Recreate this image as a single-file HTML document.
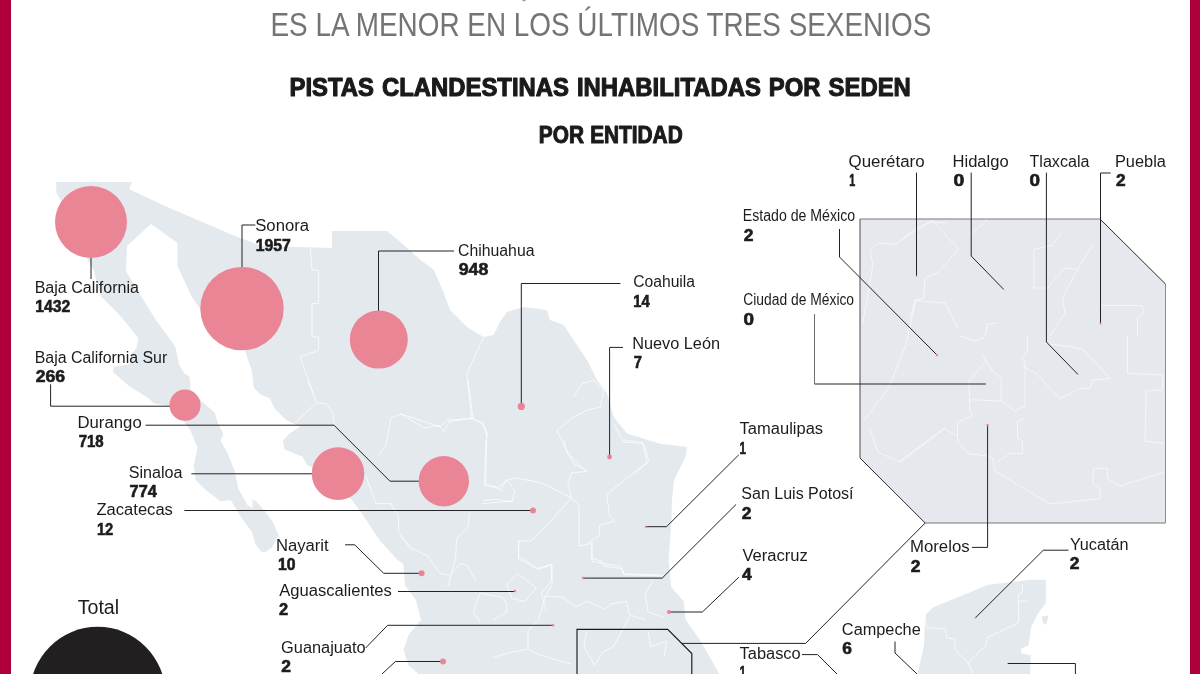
<!DOCTYPE html>
<html lang="es">
<head>
<meta charset="utf-8">
<title>Pistas clandestinas inhabilitadas por SEDEN</title>
<style>
html,body{margin:0;padding:0;background:#fff;}
body{width:1200px;height:674px;overflow:hidden;font-family:"Liberation Sans",sans-serif;}
svg{display:block;}
text{font-family:"Liberation Sans",sans-serif;}
.n{font-size:16.3px;fill:#1c1c1c;}
.v{font-size:15.8px;font-weight:700;fill:#1c1c1c;}
.ln{fill:none;stroke:#222;stroke-width:1;}
.sb{fill:none;stroke:#fff;stroke-width:1;stroke-opacity:.7;stroke-linejoin:round;}
</style>
</head>
<body>
<svg width="1200" height="674" viewBox="0 0 1200 674">
<rect x="0" y="0" width="1200" height="674" fill="#fff"/>
<g id="mapa" fill="#e4e9ee">
<polygon points="56.0,182.0 132.0,182.0 129.0,189.0 165.0,206.0 200.0,221.0 235.0,236.0 262.0,246.0 332.0,248.0 332.0,231.0 387.0,231.0 400.5,242.0 420.5,260.0 434.0,270.0 444.0,293.5 450.0,310.0 467.0,327.0 483.5,337.0 493.5,335.0 500.0,322.0 507.0,312.0 523.5,307.0 547.0,310.0 550.0,320.0 563.6,325.0 573.6,340.0 587.0,360.0 597.0,380.0 607.0,393.6 613.7,417.0 627.0,433.6 660.0,443.7 687.0,447.0 685.5,457.0 679.0,470.0 674.0,480.0 672.0,500.0 671.3,524.5 668.6,560.0 671.3,586.9 683.8,601.5 685.5,619.2 700.7,641.2 719.4,674.0 418.6,674.0 408.5,665.5 403.5,650.0 408.5,635.0 421.0,620.0 415.8,599.7 405.0,585.4 403.3,564.0 398.0,560.5 380.2,541.0 362.4,514.2 351.7,500.0 340.0,486.0 325.0,472.0 307.7,465.6 302.4,456.7 284.6,449.6 282.8,440.7 290.0,433.0 300.0,426.8 285.8,419.7 275.0,409.0 269.7,398.3 260.8,394.7 253.7,387.6 252.0,371.6 244.8,350.0 228.0,338.0 212.0,325.0 201.5,311.0 191.4,296.0 177.5,266.0 177.5,243.0 163.6,233.0 151.0,224.0 127.0,246.0 126.0,271.0 141.0,296.0 155.8,320.0 166.5,334.2 175.4,346.7 179.0,364.5 184.3,373.4 189.7,377.0 190.5,389.4 200.3,400.0 214.6,412.5 218.0,423.2 223.5,434.0 220.5,440.7 227.6,453.0 234.7,471.0 238.3,488.7 247.2,504.7 252.5,508.3 252.5,499.4 256.0,501.0 264.5,510.7 273.4,523.0 278.7,535.6 271.6,548.0 264.5,552.5 261.0,551.6 255.6,544.5 252.0,532.0 241.4,517.8 230.7,500.0 220.5,501.2 206.3,490.5 195.6,479.8 193.8,465.6 197.4,447.8 190.3,430.0 182.5,419.7 168.3,405.4 154.0,403.6 148.7,398.3 129.0,386.0 113.0,372.0 113.5,367.0 130.0,364.0 131.8,353.6 136.2,348.3 138.5,338.5 123.8,320.0 115.7,311.0 100.5,296.0 94.0,271.0 86.7,258.0 72.0,232.0 65.0,208.0 56.4,192.7"/>
<polygon points="925.2,615.0 932.8,607.5 988.3,584.7 1031.0,579.7 1045.8,579.7 1045.8,603.0 1038.0,613.5 1031.0,627.6 1028.7,645.3 1021.0,649.0 1021.0,653.0 1031.0,655.4 1030.0,674.0 917.7,674.0 924.0,645.0"/>
<polygon points="1041.5,616.5 1048.5,615.5 1046.5,625 1043,623"/>
</g>
<polygon id="recuadro" points="860.0,219.0 1100.0,219.0 1165.5,284.0 1165.5,523.0 925.2,523.0 860.0,458.0" fill="#e5e9ee"/>
<g fill="none" stroke-width="1"><polyline points="860,458 860,219" stroke="#4a4a4a"/><polyline points="860,219 1100,219" stroke="#75787c"/><polyline points="1165.5,284 1165.5,523" stroke="#8a8e93"/><polyline points="1165.5,523 925.2,523" stroke="#75787c"/></g>
<g fill="none" stroke="#2a2a2a" stroke-width="1"><polyline points="1100,219 1165.5,284"/><polyline points="860,458 925.2,523"/></g>
<defs><clipPath id="cr"><polygon points="860,219 1100,219 1165.5,284 1165.5,523 925.2,523 860,458"/></clipPath></defs>
<g id="limites" class="sb">
<polyline points="307.8,380.0 316.6,402.7 326.7,404.0 333.0,412.8 334.3,424.2"/>
<polyline points="316.6,402.7 295.1,422.9"/>
<polyline points="378.4,455.7 386.0,445.6 391.0,417.9 401.1,414.1 423.8,427.9 439.0,425.4 444.0,431.7 449.1,421.6 471.8,417.9 481.9,422.9 486.9,433.0 485.7,483.5 497.0,488.5 507.1,479.7 514.7,491.0 512.1,501.1 481.9,503.6"/>
<polyline points="468.0,380.0 473.0,417.9"/>
<polyline points="365.8,475.9 375.9,503.6 391.0,503.6 398.6,516.3 398.6,531.4 411.2,550.1"/>
<polyline points="483.5,337.5 466.8,373.5 471.8,418.6"/>
<polyline points="400.0,413.6 440.1,427.0 446.7,420.3 471.8,418.6 483.5,423.6 487.5,437.0"/>
<polyline points="573.6,396.9 582.0,383.6 593.7,380.2 603.7,390.2 600.3,406.9 587.0,410.3 573.6,416.9 556.9,430.3 566.9,450.3 573.6,463.7 587.0,470.4"/>
<polyline points="613.7,423.6 623.7,442.0 643.7,443.7 648.7,460.4 633.7,475.0"/>
<polyline points="310.4,247.5 312.0,270.2 318.7,270.2 318.7,303.6 312.0,303.6 312.0,336.9 318.7,336.9 318.7,350.3 300.3,357.0 313.7,395.0"/>
<polyline points="485.8,440.0 484.5,485.4 495.9,486.7 500.9,490.5 506.0,480.4 516.1,477.9 541.3,482.9 571.6,498.0"/>
<polyline points="571.6,498.0 546.4,525.8 531.2,540.9 518.6,540.9 518.6,558.6 536.3,568.7 551.4,564.9 551.4,581.3 541.3,593.9 546.4,610.1"/>
<polyline points="564.0,440.0 566.5,452.6 586.7,471.5 571.6,472.8 567.8,485.4 571.6,498.0 579.2,505.6 579.2,546.0 591.8,543.5 591.8,558.6 601.9,561.1 604.4,566.2 622.1,568.7 623.3,573.7 662.4,575.0"/>
<polyline points="624.6,440.0 642.2,442.5 647.3,462.7 627.1,477.9 606.9,494.3 609.4,515.7 614.5,520.7 599.3,525.8 599.3,535.9 586.7,543.5"/>
<polyline points="483.3,500.6 495.9,499.3 513.6,501.8"/>
<polyline points="469.4,513.2 468.1,527.1 456.8,538.4 455.5,558.6 447.9,586.4"/>
<polyline points="400.0,535.9 412.6,548.5 427.8,556.1 440.4,573.7 450.5,575.0 460.6,563.6 468.1,566.2 475.7,581.3"/>
<polyline points="518.7,540.0 518.7,556.0 538.7,569.3 552.0,564.0 552.0,585.3 545.3,596.0 538.7,620.0 528.0,630.7 528.0,649.3 538.7,654.7 570.7,664.0"/>
<polyline points="545.3,596.0 562.7,597.3 576.0,606.7 586.7,601.3 605.3,609.3 610.7,604.0 626.7,601.3 629.3,614.7 645.3,620.0"/>
<polyline points="506.7,585.3 517.3,573.3 536.0,588.0 525.3,601.3 512.0,598.7 506.7,585.3"/>
<polyline points="493.3,620.0 506.7,612.0 506.7,604.0 502.7,597.3 480.0,593.3 473.3,612.0 480.0,622.7"/>
<polyline points="592.0,540.0 592.0,561.3 621.3,566.7 624.0,574.7 664.0,576.0"/>
<polyline points="653.3,580.0 645.3,593.3 648.0,612.0 664.0,617.3"/>
<polyline points="493.3,657.3 512.0,652.0 528.0,649.3"/>
<polyline points="586.7,630.7 584.0,646.7 594.7,665.3 602.7,652.0 613.3,646.7 629.3,617.3"/>
<polyline points="648.0,630.7 650.7,646.7 666.7,641.3 664.0,657.3"/>
<polyline points="925.2,615.0 926.5,627.6 945.4,628.9 946.7,637.7 954.3,639.0 955.5,650.4 968.1,663.0 973.2,674.1"/>
<polyline points="968.1,663.0 985.8,645.3 987.1,637.7 1018.6,622.6"/>
<polyline points="1022.4,584.7 1022.4,592.3 1018.6,593.6 1018.6,622.6"/>
<polyline points="1018.6,601.1 1028.7,601.1"/>
</g>
<g id="limites-recuadro" class="sb" style="stroke-opacity:.55" clip-path="url(#cr)">
<polyline points="900.0,240.5 932.5,220.5 958.8,249.2 937.5,273.0 925.0,278.0 923.8,298.0 915.0,300.5 910.0,318.0"/>
<polyline points="987.5,219.2 970.0,235.5"/>
<polyline points="1061.2,233.5 1052.5,245.5 1033.8,249.2 1033.8,288.0 1047.5,288.0 1065.0,268.0 1077.5,269.2 1092.5,245.5"/>
<polyline points="1077.5,269.2 1062.5,298.0 1065.0,313.0 1050.0,336.0"/>
<polyline points="915.0,300.5 945.0,303.0 957.5,328.0"/>
<polyline points="1100.0,305.5 1142.5,305.5 1143.8,313.0 1137.5,318.0 1137.5,336.0"/>
<polyline points="985.0,336.0 987.5,324.2 997.5,323.0"/>
<polyline points="960.0,336.0 975.0,341.0 985.0,337.2"/>
<polyline points="982.5,353.5 986.2,361.0 968.8,381.0 970.0,411.0 972.5,416.0 957.5,422.2 957.5,441.0 967.5,453.5 987.5,456.0 992.5,458.5 995.0,471.0 1050.0,504.0"/>
<polyline points="957.5,436.0 943.8,428.5 900.0,461.0"/>
<polyline points="986.2,361.0 992.5,371.0 1001.2,378.5 1001.2,401.0 971.2,399.8"/>
<polyline points="1001.2,401.0 1015.0,411.0 1025.0,406.0 1025.0,361.0 1021.2,358.5 1027.5,351.0 1027.5,336.0"/>
<polyline points="1022.5,366.0 1036.2,373.5 1060.0,398.5 1080.0,388.5 1090.0,388.5 1092.5,379.8 1110.0,378.5 1085.0,351.0 1075.0,347.2 1045.0,343.5"/>
<polyline points="1025.0,418.5 1017.5,421.0 1017.5,438.5 1022.5,441.0 1022.5,453.5 1010.0,453.5 997.5,462.2"/>
<polyline points="1127.5,336.0 1127.5,373.5 1162.5,374.8 1162.5,389.8 1146.2,391.0 1145.0,441.0 1165.0,443.5"/>
<polyline points="1163.8,472.2 1120.0,486.0 1107.5,478.5 1107.5,468.5 1093.8,468.5 1092.5,483.5 1100.0,488.5 1100.0,498.5 1050.0,504.0"/>
<polyline points="862.7,323.6 872.8,265.6 870.3,250.4 877.8,242.9 895.5,244.4 913.1,230.3 928.3,222.7 948.4,222.7"/>
<polyline points="862.7,421.9 887.9,389.1 905.6,346.2 915.6,300.9"/>
<polyline points="870.3,429.5 877.8,452.1 900.5,462.2 943.4,429.5"/>
</g>
<rect x="522.5" y="0" width="3" height="1.2" fill="#9a9a9a"/>
<g class="ln">
<polyline points="91.0,258.0 91.0,279.0"/>
<polyline points="255.3,225.0 242.0,225.0 242.0,267.0"/>
<polyline points="454.0,251.0 378.5,251.0 378.5,311.0"/>
<polyline points="50.6,384.3 50.6,406.2 170.0,406.2"/>
<polyline points="145.5,425.2 334.0,425.2 390.0,481.2 419.0,481.2"/>
<polyline points="191.4,473.8 312.0,473.8"/>
<polyline points="184.4,510.5 533.0,510.5"/>
<polyline points="345.1,544.8 354.7,544.8 383.7,573.3 421.6,573.3"/>
<polyline points="398.0,591.5 515.0,591.5"/>
<polyline points="365.6,648.0 387.6,625.3 553.0,625.3"/>
<polyline points="382.0,674.0 395.4,661.5 443.0,661.5"/>
<polyline points="620.4,283.5 521.3,283.5 521.3,406.0"/>
<polyline points="623.0,347.4 609.6,347.4 609.6,457.0"/>
<polyline points="738.8,454.8 666.5,526.7 645.8,526.7"/>
<polyline points="736.0,504.5 662.2,578.1 583.1,578.1"/>
<polyline points="738.8,577.2 702.4,612.0 669.0,612.0"/>
<polyline points="802.0,654.6 817.5,654.6 837.0,674.0"/>
<polyline points="895.0,641.5 895.0,653.0 917.0,674.0"/>
<polyline points="972.0,547.4 987.6,547.4 987.6,425.0"/>
<polyline points="1068.5,550.2 1043.3,550.2 975.7,617.5"/>
<polyline points="1007.7,663.5 1075.4,663.5 1075.4,674.0"/>
<polyline points="916.5,172.6 916.5,276.0"/>
<polyline points="971.2,172.6 971.2,256.0 1003.8,289.5"/>
<polyline points="1046.4,172.6 1046.4,342.0 1078.0,374.5"/>
<polyline points="1110.6,173.0 1100.5,173.0 1100.5,323.5"/>
<polyline points="839.5,229.0 839.5,257.0 937.0,355.0"/>
<polyline points="814.5,384.0 985.8,384.0"/>
<polyline points="682.0,643.4 805.6,643.4 925.2,523.0"/>
<polyline points="814.5,314 814.5,384" stroke="#6f6f6f"/>
<polyline points="577.0,674.0 577.0,629.4 667.7,629.4 691.8,653.6 691.8,674.0" stroke="#1a1a1a" stroke-width="1.15"/>
</g>
<g id="burbujas" fill="#e98193" fill-opacity="0.97">
<circle cx="91" cy="222" r="36"/>
<circle cx="242" cy="308.6" r="41.7"/>
<circle cx="378.8" cy="339.6" r="29"/>
<circle cx="185" cy="405.2" r="15.6"/>
<circle cx="338" cy="473.6" r="26.3"/>
<circle cx="443.8" cy="481.2" r="25.2"/>
<circle cx="521.3" cy="406.4" r="3.6"/>
<circle cx="609.6" cy="457" r="2.4"/>
<circle cx="533" cy="510.5" r="3"/>
<circle cx="421.6" cy="573.3" r="3"/>
<circle cx="515" cy="591" r="1.2"/>
<circle cx="553" cy="625.2" r="1.3"/>
<circle cx="443" cy="661.5" r="3"/>
<circle cx="583.1" cy="578.1" r="1.3"/>
<circle cx="669" cy="612" r="2"/>
<circle cx="645.8" cy="526.7" r="1"/>
<circle cx="937" cy="355" r="1.2"/>
<circle cx="916.5" cy="276" r="0.8"/>
<circle cx="1100.5" cy="323.5" r="1"/>
<circle cx="987.5" cy="425" r="1.2"/>
<circle cx="975.7" cy="617.5" r="1"/>
</g>
<circle cx="97.7" cy="694.5" r="67.7" fill="#211f20"/>
<text x="77.68" y="613.7" font-size="19.4" textLength="41.47" lengthAdjust="spacingAndGlyphs" fill="#1c1c1c">Total</text>
<text x="270.48" y="36" font-size="33.8" textLength="660.8" lengthAdjust="spacingAndGlyphs" fill="#747474">ES LA MENOR EN LOS ÚLTIMOS TRES SEXENIOS</text>
<text x="289.56" y="95.5" font-size="25.4" font-weight="700" textLength="621.29" lengthAdjust="spacingAndGlyphs" fill="#1a1a1a" stroke="#1a1a1a" stroke-width="1.1" stroke-linejoin="round" word-spacing="1.5">PISTAS CLANDESTINAS INHABILITADAS POR SEDEN</text>
<text x="538.81" y="143.3" font-size="23.0" font-weight="700" textLength="143.87" lengthAdjust="spacingAndGlyphs" fill="#1a1a1a" stroke="#1a1a1a" stroke-width="1.0" stroke-linejoin="round" word-spacing="0.5">POR ENTIDAD</text>
<g id="etiquetas">
<text x="34.68" y="292.5" font-size="16.0" textLength="104.32" lengthAdjust="spacingAndGlyphs" fill="#1c1c1c">Baja California</text>
<text x="35.31" y="312.3" font-size="16.1" font-weight="700" textLength="35.02" lengthAdjust="spacingAndGlyphs" fill="#1c1c1c" stroke="#1c1c1c" stroke-width="0.6">1432</text>
<text x="34.7" y="363.0" font-size="16.0" textLength="132.57" lengthAdjust="spacingAndGlyphs" fill="#1c1c1c">Baja California Sur</text>
<text x="35.69" y="382.1" font-size="16.1" font-weight="700" textLength="29.35" lengthAdjust="spacingAndGlyphs" fill="#1c1c1c" stroke="#1c1c1c" stroke-width="0.6">266</text>
<text x="77.43" y="428.0" font-size="16.0" textLength="64.28" lengthAdjust="spacingAndGlyphs" fill="#1c1c1c">Durango</text>
<text x="78.66" y="447.3" font-size="16.1" font-weight="700" textLength="25.0" lengthAdjust="spacingAndGlyphs" fill="#1c1c1c" stroke="#1c1c1c" stroke-width="0.6">718</text>
<text x="128.77" y="478.0" font-size="16.0" textLength="53.73" lengthAdjust="spacingAndGlyphs" fill="#1c1c1c">Sinaloa</text>
<text x="129.6" y="496.6" font-size="16.1" font-weight="700" textLength="27.19" lengthAdjust="spacingAndGlyphs" fill="#1c1c1c" stroke="#1c1c1c" stroke-width="0.6">774</text>
<text x="96.47" y="514.9" font-size="16.0" textLength="76.42" lengthAdjust="spacingAndGlyphs" fill="#1c1c1c">Zacatecas</text>
<text x="96.98" y="534.9" font-size="16.1" font-weight="700" textLength="16.31" lengthAdjust="spacingAndGlyphs" fill="#1c1c1c" stroke="#1c1c1c" stroke-width="0.6">12</text>
<text x="275.93" y="550.5" font-size="16.0" textLength="52.79" lengthAdjust="spacingAndGlyphs" fill="#1c1c1c">Nayarit</text>
<text x="278.01" y="570.4" font-size="16.1" font-weight="700" textLength="17.43" lengthAdjust="spacingAndGlyphs" fill="#1c1c1c" stroke="#1c1c1c" stroke-width="0.6">10</text>
<text x="279.27" y="595.9" font-size="16.0" textLength="112.53" lengthAdjust="spacingAndGlyphs" fill="#1c1c1c">Aguascalientes</text>
<text x="279.03" y="614.5" font-size="16.1" font-weight="700" textLength="9.13" lengthAdjust="spacingAndGlyphs" fill="#1c1c1c" stroke="#1c1c1c" stroke-width="0.6">2</text>
<text x="281.08" y="652.7" font-size="16.0" textLength="84.61" lengthAdjust="spacingAndGlyphs" fill="#1c1c1c">Guanajuato</text>
<text x="281.2" y="671.9" font-size="16.1" font-weight="700" textLength="9.7" lengthAdjust="spacingAndGlyphs" fill="#1c1c1c" stroke="#1c1c1c" stroke-width="0.6">2</text>
<text x="255.24" y="231.0" font-size="16.0" textLength="53.76" lengthAdjust="spacingAndGlyphs" fill="#1c1c1c">Sonora</text>
<text x="255.81" y="251.2" font-size="16.1" font-weight="700" textLength="35.09" lengthAdjust="spacingAndGlyphs" fill="#1c1c1c" stroke="#1c1c1c" stroke-width="0.6">1957</text>
<text x="458.0" y="255.8" font-size="16.0" textLength="76.5" lengthAdjust="spacingAndGlyphs" fill="#1c1c1c">Chihuahua</text>
<text x="458.69" y="274.9" font-size="16.1" font-weight="700" textLength="29.56" lengthAdjust="spacingAndGlyphs" fill="#1c1c1c" stroke="#1c1c1c" stroke-width="0.6">948</text>
<text x="633.21" y="286.7" font-size="16.0" textLength="61.79" lengthAdjust="spacingAndGlyphs" fill="#1c1c1c">Coahuila</text>
<text x="633.37" y="306.8" font-size="16.1" font-weight="700" textLength="16.41" lengthAdjust="spacingAndGlyphs" fill="#1c1c1c" stroke="#1c1c1c" stroke-width="0.6">14</text>
<text x="632.16" y="348.8" font-size="16.0" textLength="87.9" lengthAdjust="spacingAndGlyphs" fill="#1c1c1c">Nuevo León</text>
<text x="633.67" y="367.8" font-size="16.1" font-weight="700" textLength="8.18" lengthAdjust="spacingAndGlyphs" fill="#1c1c1c" stroke="#1c1c1c" stroke-width="0.6">7</text>
<text x="739.64" y="433.8" font-size="16.0" textLength="83.45" lengthAdjust="spacingAndGlyphs" fill="#1c1c1c">Tamaulipas</text>
<text x="739.57" y="453.6" font-size="16.1" font-weight="700" textLength="6.45" lengthAdjust="spacingAndGlyphs" fill="#1c1c1c" stroke="#1c1c1c" stroke-width="0.6">1</text>
<text x="741.27" y="499.4" font-size="16.0" textLength="112.31" lengthAdjust="spacingAndGlyphs" fill="#1c1c1c">San Luis Potosí</text>
<text x="741.7" y="519.0" font-size="16.1" font-weight="700" textLength="9.7" lengthAdjust="spacingAndGlyphs" fill="#1c1c1c" stroke="#1c1c1c" stroke-width="0.6">2</text>
<text x="742.43" y="561.1" font-size="16.0" textLength="65.39" lengthAdjust="spacingAndGlyphs" fill="#1c1c1c">Veracruz</text>
<text x="742.03" y="580.3" font-size="16.1" font-weight="700" textLength="9.76" lengthAdjust="spacingAndGlyphs" fill="#1c1c1c" stroke="#1c1c1c" stroke-width="0.6">4</text>
<text x="739.64" y="658.7" font-size="16.0" textLength="61.03" lengthAdjust="spacingAndGlyphs" fill="#1c1c1c">Tabasco</text>
<text x="739.57" y="678.2" font-size="16.1" font-weight="700" textLength="6.45" lengthAdjust="spacingAndGlyphs" fill="#1c1c1c" stroke="#1c1c1c" stroke-width="0.6">1</text>
<text x="841.87" y="635.3" font-size="16.0" textLength="78.85" lengthAdjust="spacingAndGlyphs" fill="#1c1c1c">Campeche</text>
<text x="842.16" y="654.2" font-size="16.1" font-weight="700" textLength="9.66" lengthAdjust="spacingAndGlyphs" fill="#1c1c1c" stroke="#1c1c1c" stroke-width="0.6">6</text>
<text x="910.03" y="552.3" font-size="16.0" textLength="59.58" lengthAdjust="spacingAndGlyphs" fill="#1c1c1c">Morelos</text>
<text x="910.7" y="571.5" font-size="16.1" font-weight="700" textLength="9.7" lengthAdjust="spacingAndGlyphs" fill="#1c1c1c" stroke="#1c1c1c" stroke-width="0.6">2</text>
<text x="1069.95" y="549.7" font-size="16.0" textLength="58.59" lengthAdjust="spacingAndGlyphs" fill="#1c1c1c">Yucatán</text>
<text x="1069.7" y="569.4" font-size="16.1" font-weight="700" textLength="9.7" lengthAdjust="spacingAndGlyphs" fill="#1c1c1c" stroke="#1c1c1c" stroke-width="0.6">2</text>
<text x="848.6" y="167.2" font-size="16.0" textLength="76.01" lengthAdjust="spacingAndGlyphs" fill="#1c1c1c">Querétaro</text>
<text x="849.22" y="186.1" font-size="16.1" font-weight="700" textLength="5.98" lengthAdjust="spacingAndGlyphs" fill="#1c1c1c" stroke="#1c1c1c" stroke-width="0.6">1</text>
<text x="952.54" y="167.2" font-size="16.0" textLength="56.15" lengthAdjust="spacingAndGlyphs" fill="#1c1c1c">Hidalgo</text>
<text x="953.53" y="186.1" font-size="16.1" font-weight="700" textLength="10.76" lengthAdjust="spacingAndGlyphs" fill="#1c1c1c" stroke="#1c1c1c" stroke-width="0.6">0</text>
<text x="1029.54" y="167.2" font-size="16.0" textLength="59.86" lengthAdjust="spacingAndGlyphs" fill="#1c1c1c">Tlaxcala</text>
<text x="1029.55" y="186.1" font-size="16.1" font-weight="700" textLength="10.52" lengthAdjust="spacingAndGlyphs" fill="#1c1c1c" stroke="#1c1c1c" stroke-width="0.6">0</text>
<text x="1114.96" y="167.2" font-size="16.0" textLength="50.94" lengthAdjust="spacingAndGlyphs" fill="#1c1c1c">Puebla</text>
<text x="1116.0" y="186.1" font-size="16.1" font-weight="700" textLength="9.59" lengthAdjust="spacingAndGlyphs" fill="#1c1c1c" stroke="#1c1c1c" stroke-width="0.6">2</text>
<text x="742.84" y="220.8" font-size="16.0" textLength="112.25" lengthAdjust="spacingAndGlyphs" fill="#1c1c1c">Estado de México</text>
<text x="743.7" y="241.1" font-size="16.1" font-weight="700" textLength="9.7" lengthAdjust="spacingAndGlyphs" fill="#1c1c1c" stroke="#1c1c1c" stroke-width="0.6">2</text>
<text x="743.3" y="305.3" font-size="16.0" textLength="110.78" lengthAdjust="spacingAndGlyphs" fill="#1c1c1c">Ciudad de México</text>
<text x="743.55" y="324.6" font-size="16.1" font-weight="700" textLength="10.52" lengthAdjust="spacingAndGlyphs" fill="#1c1c1c" stroke="#1c1c1c" stroke-width="0.6">0</text>
</g>
<rect x="0" y="0" width="11" height="674" fill="#ae003a"/>
<rect x="1190" y="0" width="10" height="674" fill="#ae003a"/>
</svg>
</body>
</html>
